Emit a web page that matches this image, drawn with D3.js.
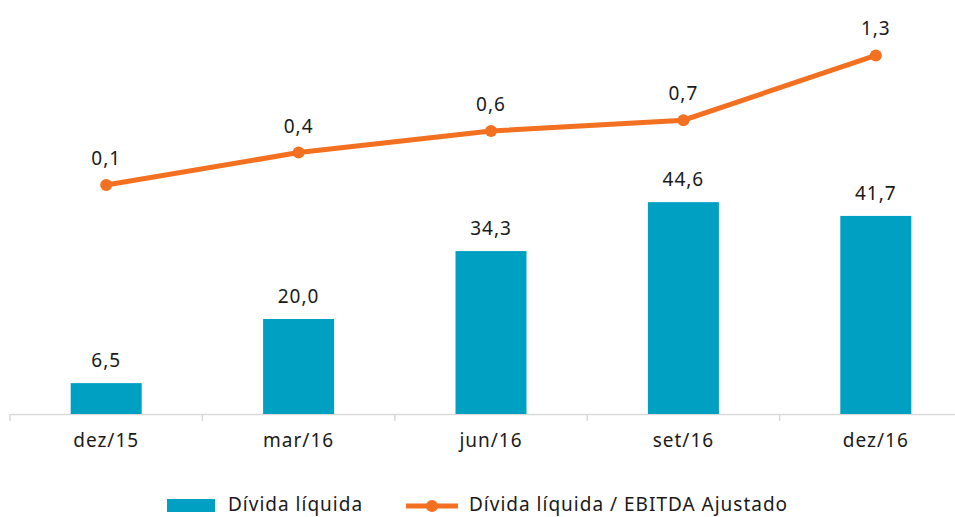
<!DOCTYPE html>
<html>
<head>
<meta charset="utf-8">
<script src="https://cdn.jsdelivr.net/npm/d3@7"></script>
<style>
  body { margin: 0; background: #fff; }
  svg text { font-family: "Noto Sans", "DejaVu Sans", sans-serif; fill: #1a1a1a; letter-spacing: 1px; }
</style>
</head>
<body>
<div id="chart"></div>
<script>
// Chart data
const categories = ["dez/15", "mar/16", "jun/16", "set/16", "dez/16"];
const dividaLiquida = [6.5, 20.0, 34.3, 44.6, 41.7];
const dividaEbitda = [0.1, 0.4, 0.6, 0.7, 1.3];
const seriesNames = ["Dívida líquida", "Dívida líquida / EBITDA Ajustado"];

const W = 955, H = 517;
const fmt = v => v.toFixed(1).replace(".", ",");

const svg = d3.select("#chart")
    .append("svg")
    .attr("width", W)
    .attr("height", H);

const baseY = 414;

const x = d3.scaleBand()
    .domain(categories)
    .range([10, 972])
    .paddingInner(0)
    .paddingOuter(0);

const barW = 71;

// bar scale: ~4.75 px per unit
const yBar = d3.scaleLinear()
    .domain([0, 50])
    .range([baseY, baseY - 237.5]);

// line scale: ~108 px per unit
const yLine = d3.scaleLinear()
    .domain([0, 1.3])
    .range([195.8, 195.8 - 108 * 1.3]);

// Axis
const axis = svg.append("g")
    .attr("transform", `translate(0,${baseY})`)
    .call(d3.axisBottom(x).tickSize(0).tickPadding(20));
axis.select(".domain").attr("stroke", "#d9d9d9").attr("stroke-width", 1.5);
axis.selectAll("text").style("font-size", "19px").attr("fill", "#1a1a1a");

// tick marks at band edges
svg.append("g")
    .selectAll("line")
    .data(categories.concat(["end"]))
    .enter()
    .append("line")
    .attr("x1", (d, i) => x.range()[0] + i * x.step())
    .attr("x2", (d, i) => x.range()[0] + i * x.step())
    .attr("y1", baseY)
    .attr("y2", baseY + 7)
    .attr("stroke", "#d9d9d9")
    .attr("stroke-width", 1.5);

// Bars
svg.selectAll("rect.bar")
    .data(dividaLiquida)
    .enter()
    .append("rect")
    .attr("class", "bar")
    .attr("x", (d, i) => x(categories[i]) + x.bandwidth() / 2 - barW / 2)
    .attr("y", d => yBar(d))
    .attr("width", barW)
    .attr("height", d => baseY - yBar(d))
    .attr("fill", "#00A0C3");

svg.selectAll("text.barlabel")
    .data(dividaLiquida)
    .enter()
    .append("text")
    .attr("class", "barlabel")
    .attr("x", (d, i) => x(categories[i]) + x.bandwidth() / 2)
    .attr("y", d => yBar(d) - 16)
    .attr("text-anchor", "middle")
    .style("font-size", "19px")
    .text(d => fmt(d));

// Line
const line = d3.line()
    .x((d, i) => x(categories[i]) + x.bandwidth() / 2)
    .y(d => yLine(d));

svg.append("path")
    .datum(dividaEbitda)
    .attr("d", line)
    .attr("fill", "none")
    .attr("stroke", "#F37021")
    .attr("stroke-width", 5);

svg.selectAll("circle.pt")
    .data(dividaEbitda)
    .enter()
    .append("circle")
    .attr("class", "pt")
    .attr("cx", (d, i) => x(categories[i]) + x.bandwidth() / 2)
    .attr("cy", d => yLine(d))
    .attr("r", 6)
    .attr("fill", "#F37021");

svg.selectAll("text.linelabel")
    .data(dividaEbitda)
    .enter()
    .append("text")
    .attr("class", "linelabel")
    .attr("x", (d, i) => x(categories[i]) + x.bandwidth() / 2)
    .attr("y", d => yLine(d) - 20)
    .attr("text-anchor", "middle")
    .style("font-size", "19px")
    .text(d => fmt(d));

// Legend
const legend = svg.append("g");
legend.append("rect")
    .attr("x", 167).attr("y", 499)
    .attr("width", 48).attr("height", 13)
    .attr("fill", "#00A0C3");
legend.append("text")
    .attr("x", 228).attr("y", 511)
    .style("font-size", "19px")
    .text(seriesNames[0]);
legend.append("line")
    .attr("x1", 406).attr("x2", 458)
    .attr("y1", 506).attr("y2", 506)
    .attr("stroke", "#F37021").attr("stroke-width", 5);
legend.append("circle")
    .attr("cx", 432).attr("cy", 506).attr("r", 6)
    .attr("fill", "#F37021");
legend.append("text")
    .attr("x", 469).attr("y", 511)
    .style("font-size", "19px")
    .text(seriesNames[1]);
</script>
</body>
</html>
